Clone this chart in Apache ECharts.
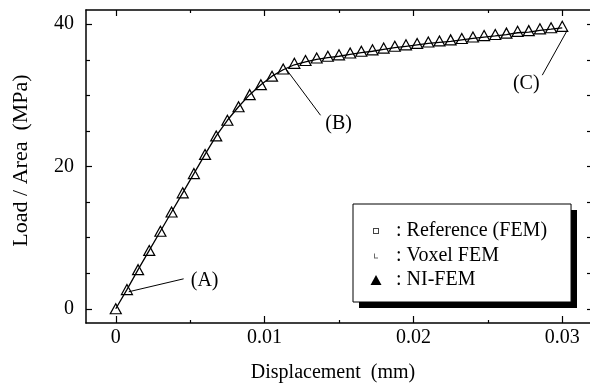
<!DOCTYPE html>
<html><head><meta charset="utf-8">
<script src="https://cdn.jsdelivr.net/npm/echarts@6/dist/echarts.min.js"></script>
<style>html,body{margin:0;padding:0;background:#fff}#c{width:590px;height:390px}</style>
</head><body><div id="c"></div>
<script>
// ---- data ----
const displacement = [0, 0.00075, 0.0015, 0.00225, 0.003, 0.00375, 0.0045, 0.00525, 0.006, 0.00675,
  0.0075, 0.00825, 0.009, 0.00975, 0.0105, 0.01125, 0.012, 0.01275, 0.0135, 0.01425,
  0.015, 0.01575, 0.0165, 0.01725, 0.018, 0.01875, 0.0195, 0.02025, 0.021, 0.02175,
  0.0225, 0.02325, 0.024, 0.02475, 0.0255, 0.02625, 0.027, 0.02775, 0.0285, 0.02925, 0.03];
const loadNIFEM = [0, 2.7, 5.5, 8.2, 10.9, 13.6, 16.3, 19.0, 21.7, 24.3,
  26.5, 28.4, 30.1, 31.5, 32.7, 33.7, 34.5, 34.9, 35.25, 35.5,
  35.7, 35.95, 36.2, 36.4, 36.65, 36.9, 37.1, 37.3, 37.5, 37.65,
  37.8, 38.0, 38.2, 38.4, 38.55, 38.75, 39.0, 39.1, 39.35, 39.5, 39.7];
const loadReference = [0, 2.7, 5.5, 8.2, 10.9, 13.6, 16.3, 19.0, 21.7, 24.3,
  26.5, 28.4, 30.1, 31.5, 32.7, 33.6, 34.3, 34.7, 35.05, 35.3,
  35.5, 35.75, 36.0, 36.2, 36.45, 36.7, 36.9, 37.1, 37.3, 37.45,
  37.6, 37.8, 38.0, 38.2, 38.35, 38.55, 38.8, 38.9, 39.15, 39.3, 39.5];
const seriesNames = ['Reference (FEM)', 'Voxel FEM', 'NI-FEM'];
const xMajorTicks = [0, 0.01, 0.02, 0.03];
const xMinorTicks = [0.005, 0.015, 0.025];
const yMajorTicks = [0, 20, 40];
const yMinorTicks = [5, 10, 15, 25, 30, 35];
const yAllTicks = [0, 5, 10, 15, 20, 25, 30, 35, 40];
const calloutNames = ['(A)', '(B)', '(C)'];
const calloutLineEnds = [
  [[0.00087, 2.39], [0.00456, 4.21]],
  [[0.01141, 33.8], [0.01376, 27.2]],
  [[0.03034, 39.16], [0.02866, 32.84]]
];
const calloutTextAt = [[0.00597, 3.93], [0.01497, 25.96], [0.02758, 31.7]];

// ---- styling ----
const serif = '"Liberation Serif", "Times New Roman", serif';
const black = '#000';
const xMin = -0.002, xMax = 0.032, yMin = -2, yMax = 42;
const frameLine = {show: true, onZero: false, lineStyle: {color: black, width: 1.5}};
const noLine = {show: false, onZero: false};
const tickStyle = {color: black, width: 1.2};

function xAxisDef(position, ticks, len, showLine, labels) {
  return {
    type: 'value', position, min: xMin, max: xMax,
    axisLine: showLine ? frameLine : noLine,
    axisTick: {show: true, inside: true, length: len, customValues: ticks, lineStyle: tickStyle},
    axisLabel: labels ? {show: true, customValues: labels, formatter: v => String(v),
      fontFamily: serif, fontSize: 20, color: black, margin: 5} : {show: false},
    splitLine: {show: false}
  };
}
function yAxisDef(position, ticks, len, showLine, labels) {
  return {
    type: 'value', position, min: yMin, max: yMax,
    axisLine: showLine ? frameLine : noLine,
    axisTick: {show: true, inside: true, length: len, customValues: ticks, lineStyle: tickStyle},
    axisLabel: labels ? {show: true, customValues: labels, formatter: v => String(v),
      fontFamily: serif, fontSize: 20, color: black, margin: 12} : {show: false},
    splitLine: {show: false}
  };
}

const xBottom = xAxisDef('bottom', xMajorTicks, 7, true, xMajorTicks);
Object.assign(xBottom, {name: 'Displacement  (mm)', nameLocation: 'middle', nameGap: 40,
  nameTextStyle: {fontFamily: serif, fontSize: 20, color: black, padding: [0, 12, 0, 0]}});
const yLeft = yAxisDef('left', yMajorTicks, 6, true, yMajorTicks);
Object.assign(yLeft, {name: 'Load / Area  (MPa)', nameLocation: 'middle', nameGap: 54,
  nameTextStyle: {fontFamily: serif, fontSize: 22, color: black, padding: [0, 0, 0, 12]}});

// legend icons (drawn in a 30x12 box, corners anchor the box)
const anchor = 'M0,0L0,0M30,12L30,12';
const iconSquare = 'path://' + anchor + 'M12,3H18V9H12ZM13,4V8H17V4Z';
const iconCorner = 'path://' + anchor + 'M13,4H14V8H17V9H13Z';
const iconTriangle = 'path://' + anchor + 'M15,1L20.5,11H9.5Z';

const chart = echarts.init(document.getElementById('c'), null, {renderer: 'canvas'});
chart.setOption({
  animation: false,
  backgroundColor: '#fff',
  grid: {left: 86, top: 10, width: 506, height: 313, containLabel: false, outerBoundsMode: 'none'},
  xAxis: [
    xBottom,
    xAxisDef('bottom', xMinorTicks, 3, false, null),
    xAxisDef('top', xMajorTicks, 6, true, null),
    xAxisDef('top', xMinorTicks, 3, false, null)
  ],
  yAxis: [
    yLeft,
    yAxisDef('left', yMinorTicks, 4, false, null),
    yAxisDef('right', yAllTicks, 5, true, null)
  ],
  graphic: [{
    type: 'rect', z: 1, silent: true,
    shape: {x: 359, y: 210, width: 218, height: 98},
    style: {fill: black}
  }],
  legend: {
    z: 5,
    orient: 'vertical', left: 353, top: 204, itemWidth: 30, itemHeight: 12, itemGap: 4.5,
    padding: [17, 24, 12, 8], borderColor: black, borderWidth: 1, backgroundColor: '#fff',
    formatter: ': {name}', selectedMode: false,
    textStyle: {fontFamily: serif, fontSize: 20, color: black, lineHeight: 20},
    data: [
      {name: seriesNames[0], icon: iconSquare, itemStyle: {color: '#444', borderWidth: 0}},
      {name: seriesNames[1], icon: iconCorner, itemStyle: {color: '#444', borderWidth: 0}},
      {name: seriesNames[2], icon: iconTriangle, itemStyle: {color: black, borderWidth: 0}}
    ]
  },
  series: [
    {
      name: seriesNames[0], type: 'line', symbol: 'none', silent: true,
      data: displacement.map((d, i) => [d, loadReference[i]]),
      lineStyle: {color: black, width: 1.3},
      itemStyle: {color: black},
      markLine: {
        silent: true, symbol: ['none', 'none'], label: {show: false},
        lineStyle: {color: black, width: 1, type: 'solid'},
        emphasis: {disabled: true},
        data: calloutLineEnds.map(s => [{coord: s[0]}, {coord: s[1]}])
      },
      markPoint: {
        silent: true, symbol: 'circle', symbolSize: 0,
        label: {show: true, position: 'inside', formatter: p => p.name,
          fontFamily: serif, fontSize: 20, color: black},
        data: calloutTextAt.map((c, i) => ({name: calloutNames[i], coord: c}))
      }
    },
    {
      name: seriesNames[1], type: 'scatter', data: [], itemStyle: {color: '#444'}
    },
    {
      name: seriesNames[2], type: 'scatter', silent: true,
      data: displacement.map((d, i) => [d, loadNIFEM[i]]),
      symbol: 'triangle', symbolSize: [11, 10],
      itemStyle: {color: '#fff', borderColor: black, borderWidth: 1.2, opacity: 1}
    }
  ]
});
</script>
</body></html>
